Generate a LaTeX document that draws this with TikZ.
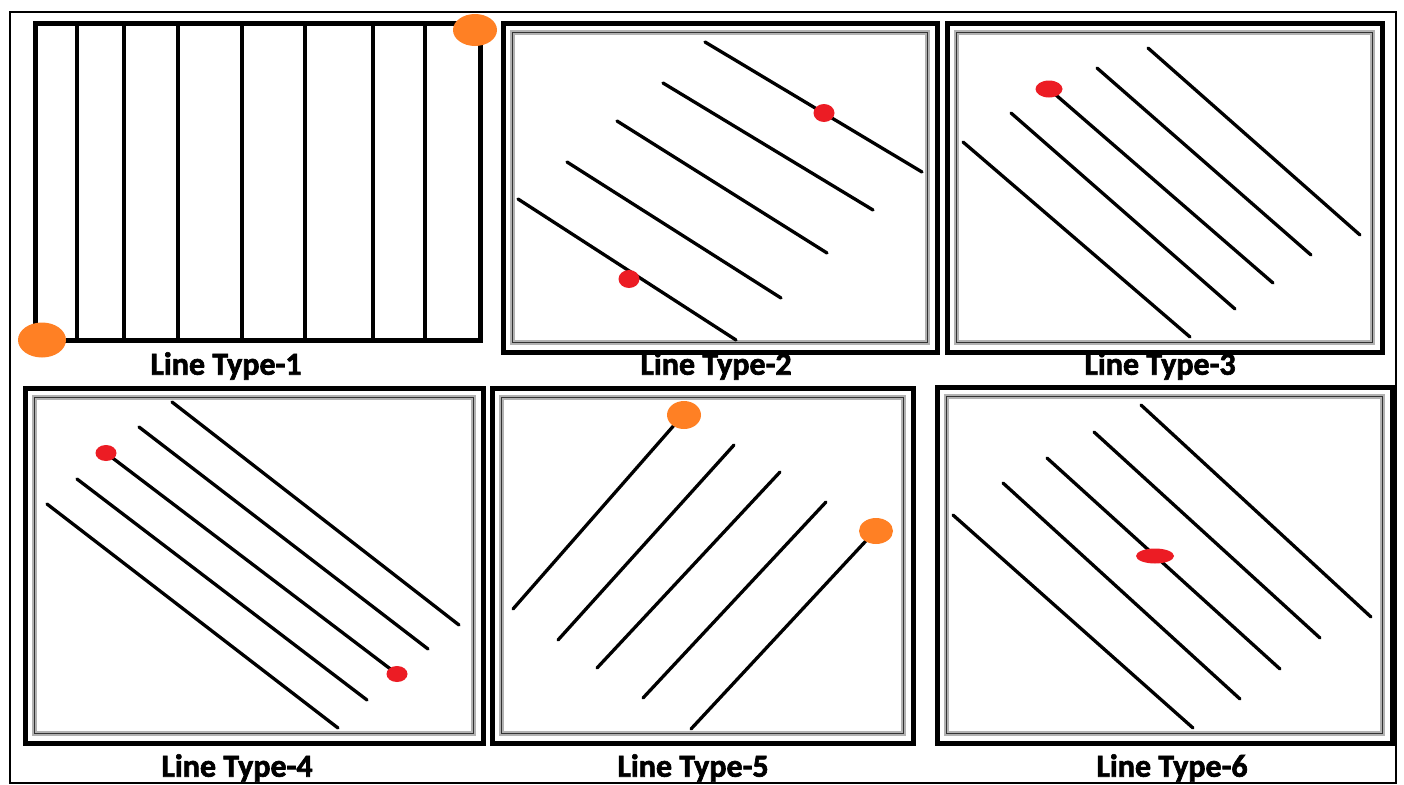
\documentclass[tikz,border=0pt]{standalone}
\usepackage{fontspec}
\setmainfont{Carlito}
\newfontfamily\capfont{Carlito}[UprightFont={* Bold}, FakeBold=2]
\usetikzlibrary{shapes.geometric}
\definecolor{dotorange}{RGB}{255,128,36}
\definecolor{dotred}{RGB}{236,28,36}
\newdimen\pu \pu=0.75pt
\tikzset{
  outerframe/.style={draw=black, line width=2.5\pu},
  panelone/.style={draw=black, line width=5\pu},
  thickframe/.style={draw=black, line width=5\pu},
  blurframe/.style={draw=black!30, line width=5\pu},
  thinframe/.style={draw=black!80, line width=1.5\pu},
  vbar/.style={line width=4.5\pu},
  hatch/.style={line width=3.3\pu, line cap=round},
  orangedot/.style={ellipse, fill=dotorange, inner sep=0pt, draw=none},
  reddot/.style={ellipse, fill=dotred, inner sep=0pt, draw=none},
  caption/.style={font=\fontsize{24}{25}\capfont, inner sep=0pt},
}
\newcommand\framedpanel[4]{%
  \draw[thickframe] (#1,#2) rectangle (#3,#4);
  \draw[blurframe] (#1+9.5,#2+9.5) rectangle (#3-9.5,#4-9.5);
  \draw[thinframe] (#1+9.5,#2+9.5) rectangle (#3-9.5,#4-9.5);
}
\begin{document}
\begin{tikzpicture}[x=0.75pt,y=-0.75pt]
\useasboundingbox[fill=white] (0,0) rectangle (1404,785);
\draw[outerframe] (10,12) rectangle (1396,783);

% ---- Panel 1 ----
\draw[panelone] (35,23) rectangle (480,340);
\foreach \xx in {77,124,178,242,305,373,425}
  \draw[vbar] (\xx,23) -- (\xx,340);
\node[orangedot, minimum width=44\pu, minimum height=32\pu] (p1a) at (475,30) {};
\node[orangedot, minimum width=48\pu, minimum height=35\pu] (p1b) at (42,340) {};
\node[caption] (c1) at (226,366) {Line Type-1};

% ---- Panel 2 ----
\framedpanel{503}{23}{937}{352}
\draw[hatch] (705,42) -- (922,172);
\draw[hatch] (663,83) -- (873,210);
\draw[hatch] (617,121) -- (827,253);
\draw[hatch] (567,162) -- (781,298);
\draw[hatch] (518,199) -- (736,340);
\node[reddot, minimum width=21\pu, minimum height=18\pu] (p2a) at (824,113) {};
\node[reddot, minimum width=21\pu, minimum height=18\pu] (p2b) at (629,279) {};
\node[caption] (c2) at (716,366) {Line Type-2};

% ---- Panel 3 ----
\framedpanel{947}{23}{1382}{352}
\draw[hatch] (963,142) -- (1190,337);
\draw[hatch] (1011,113) -- (1235,309);
\draw[hatch] (1049,89) -- (1273,283);
\draw[hatch] (1097,68) -- (1311,255);
\draw[hatch] (1148,48) -- (1360,235);
\node[reddot, minimum width=27\pu, minimum height=17\pu] (p3a) at (1049,89) {};
\node[caption] (c3) at (1160,366) {Line Type-3};

% ---- Panel 4 ----
\framedpanel{25}{388}{483}{743}
\draw[hatch] (47,504) -- (338,728);
\draw[hatch] (77,479) -- (367,700);
\draw[hatch] (106,453) -- (397,674);
\draw[hatch] (139,427) -- (428,649);
\draw[hatch] (172,402) -- (459,625);
\node[reddot, minimum width=21\pu, minimum height=16\pu] (p4a) at (106,453) {};
\node[reddot, minimum width=21\pu, minimum height=16\pu] (p4b) at (397,674) {};
\node[caption] (c4) at (237,768) {Line Type-4};

% ---- Panel 5 ----
\framedpanel{492}{388}{913}{743}
\draw[hatch] (513,609) -- (683,415);
\draw[hatch] (558,640) -- (734,445);
\draw[hatch] (597,668) -- (780,472);
\draw[hatch] (643,698) -- (826,502);
\draw[hatch] (691,729) -- (876,530);
\node[orangedot, minimum width=34\pu, minimum height=28\pu] (p5a) at (684,415) {};
\node[orangedot, minimum width=34\pu, minimum height=26\pu] (p5b) at (876,531) {};
\node[caption] (c5) at (693,768) {Line Type-5};

% ---- Panel 6 ----
\framedpanel{937}{387}{1392}{743}
\draw[hatch] (953,515) -- (1193,728);
\draw[hatch] (1003,483) -- (1240,699);
\draw[hatch] (1047,458) -- (1280,669);
\draw[hatch] (1094,432) -- (1320,638);
\draw[hatch] (1141,405) -- (1371,617);
\node[reddot, minimum width=38\pu, minimum height=15\pu] (p6a) at (1155,556) {};
\node[caption] (c6) at (1172,768) {Line Type-6};
\end{tikzpicture}
\end{document}
